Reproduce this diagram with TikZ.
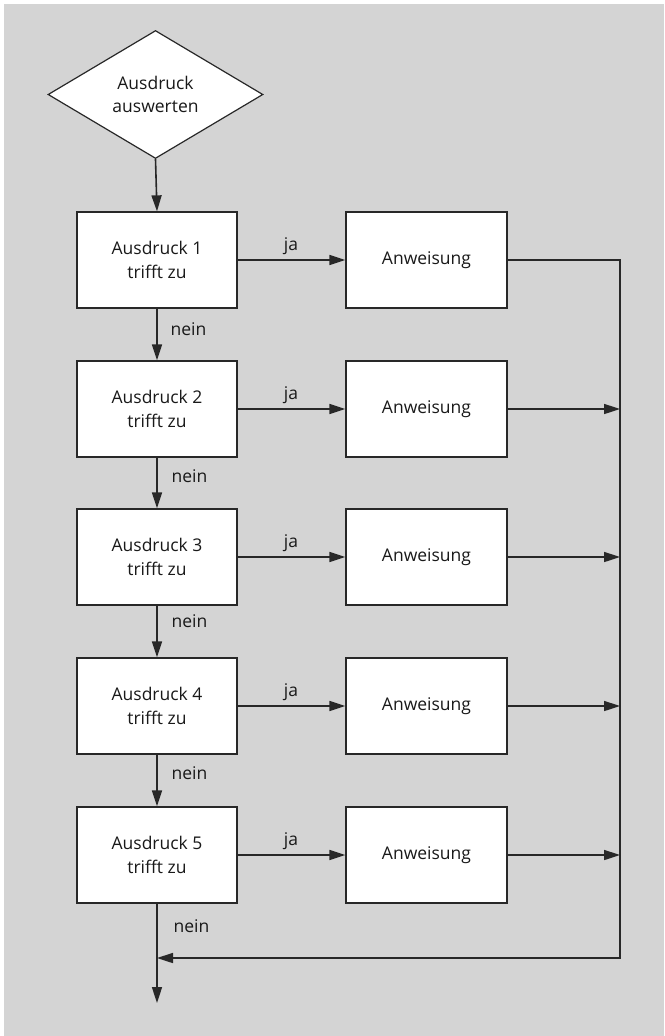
\documentclass[tikz,border=0pt]{standalone}
\usepackage{fontspec}
\setmainfont{Open Sans}
\usetikzlibrary{shapes.geometric,arrows.meta}
\definecolor{panel}{RGB}{212,212,212}
\definecolor{ink}{RGB}{40,40,40}
\definecolor{txt}{RGB}{25,25,25}
\begin{document}
\begin{tikzpicture}[x=1pt,y=-1pt,
  every node/.style={text=txt},
  labelfont/.style={font=\fontsize{17.5}{23.5}\selectfont},
  decision/.style={diamond, draw=ink, line width=1.2pt, fill=white,
    minimum width=215pt, minimum height=128pt, inner sep=0pt,
    align=center, labelfont},
  testbox/.style={rectangle, draw=ink, line width=1.3pt, fill=white,
    minimum width=160pt, minimum height=96pt, inner sep=0pt,
    align=center, labelfont},
  actbox/.style={testbox, minimum width=161pt},
  flow/.style={draw=ink, line width=1.6pt},
  arr/.style={flow, -{Triangle[length=16pt,width=10pt]}},
  yes/.style={anchor=base, labelfont},
  no/.style={anchor=base west, labelfont}]

% canvas and panel
\useasboundingbox (0,0) rectangle (664,1036);
\fill[white] (0,0) rectangle (664,1036);
\fill[panel] (4,4) rectangle (664,1036);

% start decision
\node[decision] (start) at (155.5,94.5) {Ausdruck\\auswerten};

% condition boxes and statements
\foreach \i/\y in {1/260,2/409,3/557,4/706,5/855}{
  \node[testbox] (c\i) at (157,\y) {Ausdruck \i\\trifft zu};
  \node[actbox] (a\i) at (426.5,\y) {Anweisung};
  \coordinate (j\i) at (620,\y);
}

% collector line on the right and the exit
\coordinate (back) at (620,958);
\coordinate (merge) at (157,958);
\coordinate (exit) at (157,1003);

% flow from the decision into the first test
\draw[arr] (start.south) -- (c1.north);

% "nein" branches
\draw[arr] (c1.south) -- (c2.north);
\draw[arr] (c2.south) -- (c3.north);
\draw[arr] (c3.south) -- (c4.north);
\draw[arr] (c4.south) -- (c5.north);
\draw[arr] (c5.south) -- (exit);

% "ja" branches
\foreach \i in {1,...,5}{
  \draw[arr] (c\i.east) -- (a\i.west);
}

% statements into the collector line
\draw[flow, line join=miter] (a1.east) -- (j1) -- (back) -- ([xshift=-8pt]back);
\draw[arr] (back) -- (merge);
\foreach \i in {2,...,5}{
  \draw[arr] (a\i.east) -- (j\i);
}

% branch labels
\foreach \i/\y in {1/250,2/399,3/547,4/696,5/845}{
  \node[yes] (ja\i) at (291,\y) {ja};
}
\node[no] (n1) at (167,335) {nein};
\node[no] (n2) at (168,482) {nein};
\node[no] (n3) at (168,627) {nein};
\node[no] (n4) at (168,779) {nein};
\node[no] (n5) at (170,932) {nein};
\end{tikzpicture}
\end{document}
